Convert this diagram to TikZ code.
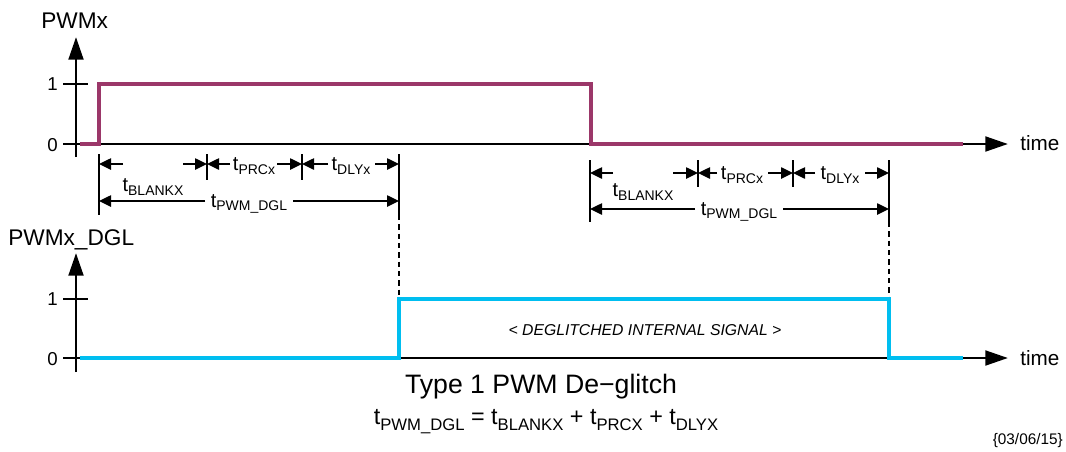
\documentclass[tikz,border=0pt]{standalone}
\usepackage{fontspec}
\setmainfont{Liberation Sans}
\usetikzlibrary{arrows.meta}
\definecolor{pwmcol}{RGB}{155,55,105}
\definecolor{dglcol}{RGB}{0,190,240}
\newcommand\tsb[4]{{\fontsize{#1}{#1}\selectfont t\raisebox{-#3}{\fontsize{#2}{#2}\selectfont #4}}}
\newcommand\dimlab[1]{\tsb{15}{10.5}{2.5pt}{#1}}
\newcommand\fmlab[1]{\tsb{17.5}{12.5}{4.5pt}{#1}}
\begin{document}
\begin{tikzpicture}[x=0.75pt,y=-0.75pt,
  axis/.style={line width=2.2pt,-{Triangle[length=17pt,width=11pt]}},
  tickmark/.style={line width=2.2pt},
  sigA/.style={pwmcol,line width=2.4pt},
  sigB/.style={dglcol,line width=2.4pt},
  dimline/.style={line width=1.1pt},
  dimarr/.style={line width=1.1pt,-{Triangle[length=9pt,width=8.5pt]}},
  dashline/.style={line width=1.1pt,dash pattern=on 4pt off 3pt},
  axlbl/.style={inner sep=0pt,font=\fontsize{17}{17}\selectfont},
  digit/.style={inner sep=0pt,font=\fontsize{14}{14}\selectfont},
  timel/.style={inner sep=0pt,font=\fontsize{15.5}{15.5}\selectfont},
  dlab/.style={inner sep=0pt}
]
\useasboundingbox (0,0) rectangle (1066,451);

% ---------- top chart ----------
\coordinate (ayA0) at (76,157);
\coordinate (ayA1) at (76,37);
\coordinate (atA0) at (63,144);
\coordinate (atA1) at (1008,144);
\draw[axis] (ayA0) -- (ayA1);
\draw[axis] (atA0) -- (atA1);
\draw[tickmark] (63,84) -- (88,84);
\draw[sigA] (80,144) -- (99,144) -- (99,84) -- (591,84) -- (591,144) -- (963,144);
\node[axlbl,anchor=base west] (pwmx) at (41,28) {PWMx};
\node[digit,anchor=base east] (oneA) at (58,90) {1};
\node[digit,anchor=base east] (zeroA) at (58,151) {0};
\node[timel,anchor=base west] (timeA) at (1020,150) {time};

% left dimensions
\draw[dimline] (99,154) -- (99,215);
\draw[dimline] (207,154) -- (207,180);
\draw[dimline] (302,154) -- (302,180);
\draw[dimline] (399,154) -- (399,215);
\draw[dashline] (399,215) -- (399,299);
\draw[dimarr] (123,164) -- (99,164);
\draw[dimarr] (183,164) -- (207,164);
\node[dlab] (blL) at (153,187) {\dimlab{BLANKX}};
\draw[dimarr] (230,164) -- (207,164);
\node[dlab] (prL) at (254,166) {\dimlab{PRCx}};
\draw[dimarr] (277,164) -- (302,164);
\draw[dimarr] (328,164) -- (302,164);
\node[dlab] (dyL) at (351,166) {\dimlab{DLYx}};
\draw[dimarr] (375,164) -- (399,164);
\draw[dimarr] (205,201) -- (99,201);
\node[dlab] (pwL) at (249,204) {\dimlab{PWM\_DGL}};
\draw[dimarr] (293,201) -- (399,201);

% right dimensions
\draw[dimline] (590,160) -- (590,222);
\draw[dimline] (698,160) -- (698,187);
\draw[dimline] (793,160) -- (793,187);
\draw[dimline] (889,160) -- (889,222);
\draw[dashline] (889,222) -- (889,299);
\draw[dimarr] (613,173) -- (590,173);
\draw[dimarr] (673,173) -- (698,173);
\node[dlab] (blR) at (643,192) {\dimlab{BLANKX}};
\draw[dimarr] (717,173) -- (698,173);
\node[dlab] (prR) at (742,175) {\dimlab{PRCx}};
\draw[dimarr] (768,173) -- (793,173);
\draw[dimarr] (815,173) -- (793,173);
\node[dlab] (dyR) at (840,175) {\dimlab{DLYx}};
\draw[dimarr] (865,173) -- (889,173);
\draw[dimarr] (695,209) -- (590,209);
\node[dlab] (pwR) at (739,212) {\dimlab{PWM\_DGL}};
\draw[dimarr] (783,209) -- (889,209);

% ---------- bottom chart ----------
\coordinate (ayB0) at (76,372);
\coordinate (ayB1) at (76,253);
\coordinate (atB0) at (63,358);
\coordinate (atB1) at (1008,358);
\draw[axis] (ayB0) -- (ayB1);
\draw[axis] (atB0) -- (atB1);
\draw[tickmark] (63,299) -- (88,299);
\draw[sigB] (80,358) -- (399,358) -- (399,299) -- (889,299) -- (889,358) -- (963,358);
\node[axlbl,anchor=base west] (pwmdgl) at (8,245) {PWMx\_DGL};
\node[digit,anchor=base east] (oneB) at (58,305) {1};
\node[digit,anchor=base east] (zeroB) at (58,365) {0};
\node[timel,anchor=base west] (timeB) at (1020,365) {time};
\node[inner sep=0pt,font=\fontsize{11.8}{11.8}\selectfont\itshape] (dgl) at (645,330) {< DEGLITCHED INTERNAL SIGNAL >};

% ---------- captions ----------
\node[inner sep=0pt,anchor=base,font=\fontsize{20}{20}\selectfont] (title) at (541,393) {Type 1 PWM De−glitch};
\node[inner sep=0pt,anchor=base,font=\fontsize{17.5}{17.5}\selectfont] (formula) at (546,424) {\fmlab{PWM\_DGL} = \fmlab{BLANKX} + \fmlab{PRCX} + \fmlab{DLYX}};
\node[inner sep=0pt,anchor=base east,font=\fontsize{11.5}{11.5}\selectfont] (date) at (1063,444) {\{03/06/15\}};
\end{tikzpicture}
\end{document}
